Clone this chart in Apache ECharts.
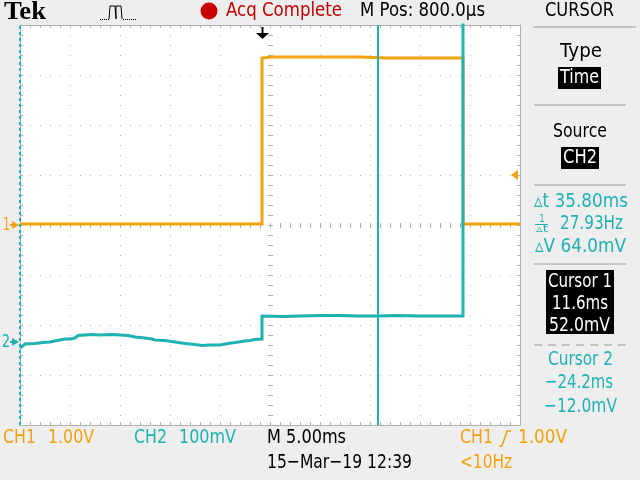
<!DOCTYPE html>
<html>
<head>
<meta charset="utf-8">
<script src="https://cdn.jsdelivr.net/npm/echarts@6/dist/echarts.min.js"></script>
<style>
  html, body { margin: 0; padding: 0; background: #eeeeee; }
  #scope { width: 640px; height: 480px; }
</style>
</head>
<body>
<div id="scope"></div>
<script>
// Horizontal setup: 5.00 ms/div, main position 800 us
const timePerDiv = 5.0;        // ms
const horizPos = 0.8;          // ms
// Channel settings
const ch1VoltsPerDiv = 1.0;    // V
const ch2mVPerDiv = 100;       // mV
const ch2GroundDiv = -2.34;    // CH2 ground marker, divisions from centre

// CH1 trace: time (ms from trigger) and level (V)
const ch1Time  = [-24.2, -12.0, 0.0, 0.0, 1.0, 5.8, 9.8, 12.5, 17.5, 20.1, 20.1, 25.8];
const ch1Volts = [0.02, 0.02, 0.02, 3.34, 3.36, 3.36, 3.36, 3.34, 3.34, 3.34, 0.02, 0.02];

// CH2 trace: time (ms from trigger) and level (mV)
const ch2Time = [-24.2, -23.7, -22.7, -21.9, -21.2, -20.5, -19.7, -19.2, -18.7, -18.4, -17.0, -16.2,
                 -15.0, -14.2, -13.4, -12.7, -11.7, -11.0, -10.7, -9.7, -8.7, -7.7, -6.7, -6.0,
                 -5.2, -4.2, -3.4, -2.7, -1.7, -1.2, -0.7, 0.0,
                 0.0, 2.2, 3.8, 6.0, 7.8, 9.6, 11.6, 13.5, 15.8, 18.0, 20.1, 20.1, 25.8];
const ch2mV   = [-12, -4, -3, -1, 0, 3, 6, 6, 8, 13, 15, 14,
                 15, 14, 13, 10, 8, 6, 4, 3, 0, -3, -5, -7,
                 -6, -6, -3, -1, 2, 3, 5, 6,
                 52, 51, 52, 53, 53, 52, 52, 53, 52, 52, 52, 800, 800];

// Cursor positions (time) and levels read on CH2
const cursorTime  = [11.6, -24.2];
const cursorLevel = [52.0, -12.0];
const triggerLevelV = 1.00;

// Colours and font
const ORANGE = '#f2a20f';
const TEAL = '#1fb2b2';
const GRID = '#b0b0b0';
const FONT = "'DejaVu Sans', sans-serif";

const xMin = horizPos - 5 * timePerDiv;
const xMax = horizPos + 5 * timePerDiv;
const ch1Min = -4 * ch1VoltsPerDiv, ch1Max = 4 * ch1VoltsPerDiv;
const ch2Min = (-4 - ch2GroundDiv) * ch2mVPerDiv, ch2Max = (4 - ch2GroundDiv) * ch2mVPerDiv;

const ch1Data = ch1Time.map((t, i) => [t, ch1Volts[i]]);
const ch2Data = ch2Time.map((t, i) => [t, ch2mV[i]]);

const chart = echarts.init(document.getElementById('scope'), null, { renderer: 'canvas' });

function gratAxis(position, withSplit, isX) {
  return {
    gridIndex: 0, type: 'value', position: position,
    min: isX ? 0 : -4, max: isX ? 10 : 4, interval: 1,
    axisLine: { show: true, onZero: false, lineStyle: { color: GRID, width: 1 } },
    axisTick: { show: true, inside: true, length: 3, lineStyle: { color: GRID } },
    minorTick: { show: true, splitNumber: 5, length: 3, lineStyle: { color: GRID } },
    axisLabel: { show: false },
    splitLine: { show: withSplit, lineStyle: { color: GRID, width: 1, type: [1, 9] } },
    silent: true
  };
}

// Text squeezed horizontally into a given span (the scope font is tall and narrow)
const measureCtx = document.createElement('canvas').getContext('2d');
function fit(text, left, right, y, color, size, weight, fam) {
  const font = (weight ? weight + ' ' : '') + (size || 20) + 'px ' + (fam || FONT);
  measureCtx.font = font;
  const w = measureCtx.measureText(text).width;
  return {
    type: 'text', x: left, y: y, scaleX: (right - left) / w, silent: true,
    style: { text: text, fill: color, font: font, align: 'left', verticalAlign: 'middle' }
  };
}
function hline(x1, x2, y, color, width, dash) {
  return { type: 'line', silent: true, shape: { x1: x1, y1: y, x2: x2, y2: y },
    style: { stroke: color, lineWidth: width || 1, lineDash: dash || null } };
}

const dt = cursorTime[0] - cursorTime[1];
const freq = 1000 / dt;
const dV = cursorLevel[0] - cursorLevel[1];
const fmtSigned = (v, d) => (v < 0 ? '\u2212' : '') + Math.abs(v).toFixed(d);

chart.setOption({
  animation: false,
  backgroundColor: '#eeeeee',
  grid: { left: 20, top: 25, width: 500, height: 400, show: true, backgroundColor: '#ffffff', borderWidth: 0 },
  xAxis: [
    gratAxis('bottom', true, true),
    gratAxis('top', false, true),
    { gridIndex: 0, type: 'value', min: xMin, max: xMax, show: false }
  ],
  yAxis: [
    gratAxis('left', true, false),
    gratAxis('right', false, false),
    { gridIndex: 0, type: 'value', min: ch1Min, max: ch1Max, show: false },
    { gridIndex: 0, type: 'value', min: ch2Min, max: ch2Max, show: false }
  ],
  series: [
    {
      // centre cross with minor-division tick marks
      type: 'custom', xAxisIndex: 0, yAxisIndex: 0, silent: true, z: 1,
      data: [[5, 0]],
      renderItem: function (params, api) {
        const kids = [];
        for (let j = 0; j <= 50; j++) {
          const p = api.coord([j / 5, 0]);
          const x = Math.round(p[0]) + 0.5, y = Math.round(p[1]);
          kids.push({ type: 'line', shape: { x1: x, y1: y - 2, x2: x, y2: y + 3 }, style: { stroke: GRID, lineWidth: 1 } });
        }
        for (let j = 0; j <= 40; j++) {
          const p = api.coord([5, -4 + j / 5]);
          const x = Math.round(p[0]), y = Math.round(p[1]) + 0.5;
          kids.push({ type: 'line', shape: { x1: x - 2, y1: y, x2: x + 3, y2: y }, style: { stroke: GRID, lineWidth: 1 } });
        }
        return { type: 'group', children: kids };
      }
    },
    {
      name: 'CH1', type: 'line', xAxisIndex: 2, yAxisIndex: 2, data: ch1Data,
      showSymbol: false, clip: true, z: 3,
      lineStyle: { color: ORANGE, width: 3, join: 'miter' }
    },
    {
      name: 'CH2', type: 'line', xAxisIndex: 2, yAxisIndex: 3, data: ch2Data,
      showSymbol: false, clip: true, z: 4,
      lineStyle: { color: TEAL, width: 3, join: 'miter' },
      markLine: {
        silent: true, symbol: ['none', 'none'], label: { show: false },
        data: [
          { xAxis: cursorTime[0], lineStyle: { color: TEAL, width: 2, type: 'solid' } },
          { xAxis: cursorTime[1], lineStyle: { color: TEAL, width: 2, type: [3, 3] } }
        ]
      }
    }
  ]
});

// Markers placed from the axis scales
const gndCh1 = chart.convertToPixel({ yAxisIndex: 2 }, 0);
const gndCh2 = chart.convertToPixel({ yAxisIndex: 3 }, 0);
const trigX = Math.round(chart.convertToPixel({ xAxisIndex: 2 }, 0));
const trigY = chart.convertToPixel({ yAxisIndex: 2 }, triggerLevelV);

const PANEL_LINE = '#c4c4c4';
const g = [];
// status line
g.push(fit('Tek', 4, 46, 13, '#000', 25, 'bold', '"Liberation Serif", serif'));
g.push({ type: 'polyline', silent: true, shape: { points: [[109, 19], [110, 6], [115, 6], [116, 19], [116, 6], [121, 6], [122, 19]] },
  style: { stroke: '#000', fill: null, lineWidth: 1 } });
g.push(hline(100, 109, 19.5, '#000', 1, [1, 1]));
g.push(hline(123, 137, 19.5, '#000', 1, [1, 1]));
g.push({ type: 'circle', silent: true, shape: { cx: 209, cy: 11, r: 8.5 }, style: { fill: '#c80000' } });
g.push(fit('Acq Complete', 226, 342, 11, '#c00000', 20));
g.push(fit('M Pos: 800.0\u00b5s', 360, 485, 11, '#000', 20));
g.push(fit('CURSOR', 545, 614, 11, '#000', 20));
g.push(hline(533, 636, 27, PANEL_LINE, 2));

// cursor menu panel
g.push(fit('Type', 560, 602, 52, '#000', 20));
g.push({ type: 'rect', silent: true, shape: { x: 558, y: 67, width: 43, height: 22 }, style: { fill: '#000' } });
g.push(fit('Time', 560, 599, 78, '#fff', 20));
g.push(hline(534, 626, 105, PANEL_LINE, 2));
g.push(fit('Source', 553, 607, 132, '#000', 20));
g.push({ type: 'rect', silent: true, shape: { x: 561, y: 147, width: 38, height: 22 }, style: { fill: '#000' } });
g.push(fit('CH2', 563, 597, 158, '#fff', 20));
g.push(hline(534, 626, 185, PANEL_LINE, 2));

g.push(fit('\u25b5t ' + dt.toFixed(2) + 'ms', 534, 628, 202, TEAL, 20));
g.push(fit('1', 539, 545, 219, TEAL, 10));
g.push(hline(535, 548, 224.5, TEAL, 1));
g.push(fit('\u25b5t', 536, 548, 229, TEAL, 10));
g.push(fit(freq.toFixed(2) + 'Hz', 560, 623, 224, TEAL, 20));
g.push(fit('\u25b5V ' + dV.toFixed(1) + 'mV', 535, 626, 247, TEAL, 20));
g.push(hline(534, 626, 264, PANEL_LINE, 2));
g.push({ type: 'rect', silent: true, shape: { x: 546, y: 270, width: 68, height: 64 }, style: { fill: '#000' } });
g.push(fit('Cursor 1', 548, 612, 282, '#fff', 20));
g.push(fit(fmtSigned(cursorTime[0], 1) + 'ms', 552, 608, 304, '#fff', 20));
g.push(fit(fmtSigned(cursorLevel[0], 1) + 'mV', 549, 610, 326, '#fff', 20));
g.push(hline(534, 626, 345, PANEL_LINE, 2, [8, 6]));
g.push(fit('Cursor 2', 548, 613, 360, TEAL, 20));
g.push(fit(fmtSigned(cursorTime[1], 1) + 'ms', 545, 613, 383, TEAL, 20));
g.push(fit(fmtSigned(cursorLevel[1], 1) + 'mV', 544, 617, 407, TEAL, 20));

// bottom readouts
g.push(fit('CH1', 3, 36, 438, ORANGE, 20));
g.push(fit('1.00V', 48, 94, 438, ORANGE, 20));
g.push(fit('CH2', 134, 167, 438, TEAL, 20));
g.push(fit('100mV', 179, 236, 438, TEAL, 20));
g.push(fit('M 5.00ms', 267, 346, 438, '#000', 20));
g.push(fit('15\u2212Mar\u221219 12:39', 267, 412, 463, '#000', 20));
g.push(fit('CH1', 460, 493, 438, ORANGE, 20));
g.push({ type: 'polyline', silent: true, shape: { points: [[499, 446], [502, 446], [507, 431], [511, 431]] }, style: { stroke: ORANGE, fill: null, lineWidth: 1.5 } });
g.push(fit('1.00V', 518, 567, 438, ORANGE, 20));
g.push(fit('<10Hz', 460, 512, 463, ORANGE, 20));

// channel ground markers
g.push(fit('1', 3, 10, gndCh1, ORANGE, 18));
g.push({ type: 'polygon', silent: true, shape: { points: [[12, gndCh1 - 4], [19, gndCh1], [12, gndCh1 + 4]] }, style: { fill: ORANGE } });
g.push(hline(10, 14, gndCh1, ORANGE, 2));
g.push(fit('2', 2, 10, gndCh2, TEAL, 18));
g.push({ type: 'polygon', silent: true, shape: { points: [[12, gndCh2 - 4], [19, gndCh2], [12, gndCh2 + 4]] }, style: { fill: TEAL } });
g.push(hline(10, 14, gndCh2, TEAL, 2));

// trigger position and level markers
g.push({ type: 'line', silent: true, shape: { x1: trigX + 0.5, y1: 27, x2: trigX + 0.5, y2: 34 }, style: { stroke: '#000', lineWidth: 2 } });
g.push({ type: 'polygon', silent: true, shape: { points: [[trigX - 6, 33], [trigX + 7, 33], [trigX + 0.5, 39]] }, style: { fill: '#000' } });
g.push({ type: 'polygon', silent: true, shape: { points: [[511, trigY], [518, trigY - 5], [518, trigY + 5]] }, style: { fill: ORANGE } });

chart.setOption({ graphic: { elements: g } });
</script>
</body>
</html>
